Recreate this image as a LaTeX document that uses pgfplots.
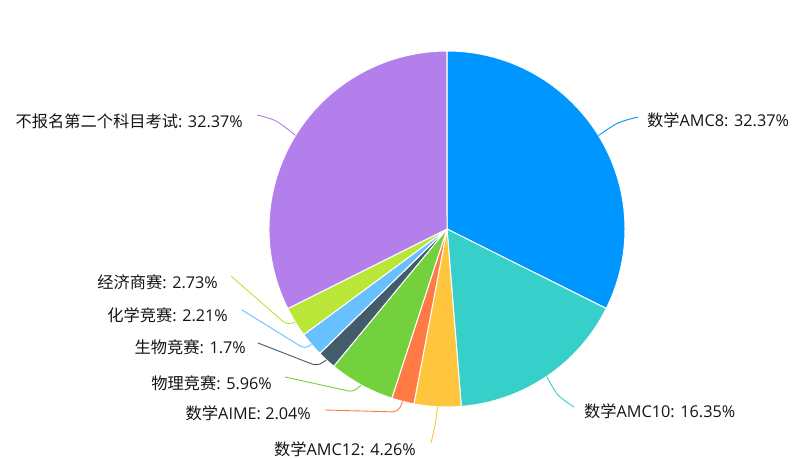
\documentclass[border=0pt]{standalone}
\usepackage{fontspec}
\setmainfont{Open Sans}
\newfontfamily\cjk{Noto Sans CJK SC}
\usepackage{pgfplots}
\pgfplotsset{compat=1.18}

\definecolor{cA}{HTML}{0096FF}
\definecolor{cB}{HTML}{36CFC9}
\definecolor{cC}{HTML}{FFC53D}
\definecolor{cD}{HTML}{FF7A45}
\definecolor{cE}{HTML}{73D13D}
\definecolor{cF}{HTML}{435C6B}
\definecolor{cG}{HTML}{69C0FF}
\definecolor{cH}{HTML}{BAE637}
\definecolor{cI}{HTML}{B37FEB}

\tikzset{lbl/.style={font=\fontsize{16.3}{19}\selectfont, text=black!92, inner sep=0pt}}

% pie: centre (447,229) in image pixels, radius 178, clockwise from top
\gdef\cum{0}
\newcommand\slice[2]{%
  \pgfmathsetmacro\sa{90-3.6*\cum}%
  \pgfmathsetmacro\cumnew{\cum+#1}%
  \pgfmathsetmacro\sb{90-3.6*\cumnew}%
  \global\let\cum\cumnew
  \edef\tmp{\noexpand\fill[#2, draw=white, line width=1bp, line join=round]
    (axis cs:447,229) -- ++(\sa:178bp) arc[start angle=\sa, end angle=\sb, radius=178bp] -- cycle;}%
  \tmp}

\begin{document}
\begin{tikzpicture}
\begin{axis}[
  width=793bp, height=459bp, scale only axis,
  xmin=0, xmax=793, ymin=0, ymax=459, y dir=reverse,
  hide axis, clip=false,
]
\slice{32.37}{cA}
\slice{16.35}{cB}
\slice{4.26}{cC}
\slice{2.04}{cD}
\slice{5.96}{cE}
\slice{1.7}{cF}
\slice{2.21}{cG}
\slice{2.73}{cH}
\slice{32.37}{cI}

% leader lines
\addplot[cA, line width=0.9bp, smooth, tension=0.5] coordinates {(598.5,135.5) (618,123) (638,117)};
\addplot[cB, line width=0.9bp, smooth, tension=0.5] coordinates {(546.7,376.5) (558,395) (574,407)};
\addplot[cC, line width=0.9bp, smooth, tension=0.5] coordinates {(437.5,406.7) (435,425) (431,443)};
\addplot[cD, line width=0.9bp, rounded corners=5bp] coordinates {(402.7,401.4) (398,412) (325,410)};
\addplot[cE, line width=0.9bp, rounded corners=5bp] coordinates {(361.2,385) (353,392) (285,377)};
\addplot[cF, line width=0.9bp, rounded corners=5bp] coordinates {(326.4,360) (317,366) (258,343)};
\addplot[cG, line width=0.9bp, rounded corners=5bp] coordinates {(311.4,344.3) (305,349) (242,310)};
\addplot[cH, line width=0.9bp, rounded corners=5bp] coordinates {(295.2,322) (287,325) (231,276)};
\addplot[cI, line width=0.9bp, smooth, tension=0.5] coordinates {(295.5,135.4) (276,121) (257,115)};

\node[lbl, anchor=west] at (axis cs:647,120) {{\cjk 数学}AMC8: 32.37\%};
\node[lbl, anchor=west] at (axis cs:584,411) {{\cjk 数学}AMC10: 16.35\%};
\node[lbl, anchor=east] at (axis cs:416,449) {{\cjk 数学}AMC12: 4.26\%};
\node[lbl, anchor=east] at (axis cs:311,413) {{\cjk 数学}AIME: 2.04\%};
\node[lbl, anchor=east] at (axis cs:272,383) {{\cjk 物理竞赛}: 5.96\%};
\node[lbl, anchor=east] at (axis cs:246,347) {{\cjk 生物竞赛}: 1.7\%};
\node[lbl, anchor=east] at (axis cs:228,315) {{\cjk 化学竞赛}: 2.21\%};
\node[lbl, anchor=east] at (axis cs:218,282) {{\cjk 经济商赛}: 2.73\%};
\node[lbl, anchor=east] at (axis cs:243,121) {{\cjk 不报名第二个科目考试}: 32.37\%};
\end{axis}
\pgfresetboundingbox
\path[use as bounding box] (current axis.south west) rectangle (current axis.north east);
\end{tikzpicture}
\end{document}
